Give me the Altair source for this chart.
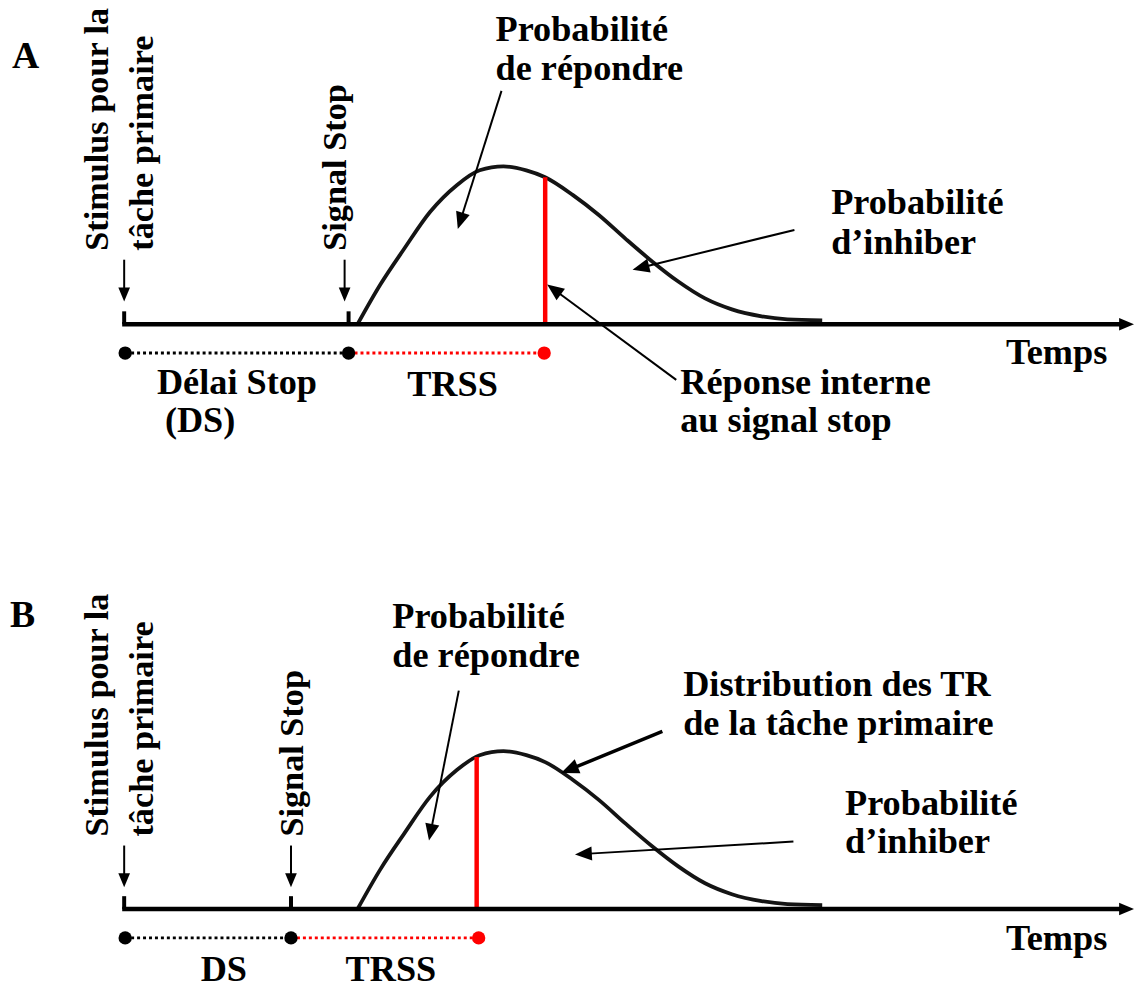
import math
import numpy as np
import pandas as pd
import altair as alt

FONT = "Liberation Serif"

# ---- data (diagram units: time along x, height above the time axis) ----
panels = ["A", "B"]
axis_y = [323, 912]
stimulus_t = [125, 125]
stop_t = [351, 293]
ssrt_end_t = [549, 480]
dot_t = [[126, 351, 548], [126, 293, 482]]

# response-time distribution of the primary task (same in both panels)
curve_t = [360, 383, 407, 433, 460, 483, 507, 530, 549, 577, 603, 630, 657, 683, 710, 737, 767, 793, 828]
curve_h = [0, 40, 76, 113, 140, 155, 159, 155, 148, 130, 110, 86, 63, 43, 26, 15, 8, 5, 4]

# labels: text, left x, baseline y, font size
flat_labels = [
    ("A", 12, 65, 38), ("B", 10, 628, 38),
    ("Probabilité", 499, 38, 36.5), ("de répondre", 499, 77, 36.5),
    ("Probabilité", 837, 212, 36.5), ("d’inhiber", 837, 252, 36.5),
    ("Réponse interne", 685, 393, 36.5), ("au signal stop", 685, 432, 36.5),
    ("Temps", 1013, 363, 36.5), ("Délai Stop", 158, 393, 36.5), ("(DS)", 166, 432, 36.5),
    ("TRSS", 410, 395, 36.5),
    ("Probabilité", 395, 629, 36.5), ("de répondre", 395, 668, 36.5),
    ("Distribution des TR", 688, 697, 36.5), ("de la tâche primaire", 688, 737, 36.5),
    ("Probabilité", 851, 817, 36.5), ("d’inhiber", 851, 856, 36.5),
    ("Temps", 1013, 953, 36.5), ("DS", 202, 984, 36.5), ("TRSS", 348, 984, 36.5),
]
rot_labels = [
    ("Stimulus pour la", 109, 249), ("tâche primaire", 154, 249), ("Signal Stop", 348, 249),
    ("Stimulus pour la", 109, 839), ("tâche primaire", 154, 839), ("Signal Stop", 305, 839),
]
# annotation arrows: x1, y1, tip x, tip y, stroke width, head length
arrows = [
    (505, 88, 461, 227, 2, 17), (800, 228, 637, 268, 2, 17), (681, 379, 551, 283, 2, 17),
    (462, 692, 432, 843, 2, 17), (667, 733, 565, 775, 3.5, 18), (799, 844, 579, 857, 2, 17),
    (125, 258, 125, 300, 2, 14), (347, 258, 347, 300, 2, 14),
    (125, 848, 125, 890, 2, 14), (293, 848, 293, 890, 2, 14),
    (123, 323, 1142, 323, 4.5, 15), (123, 912, 1142, 912, 4.5, 15),
]

# ---- tables ----
W, H = 1134, 982
xs = alt.Scale(domain=[8, 8 + W], nice=False, zero=False)
ys = alt.Scale(domain=[8, 8 + H], nice=False, zero=False, reverse=True)


def X(f):
    return alt.X(f, type="quantitative", scale=xs, axis=None)


def Y(f):
    return alt.Y(f, type="quantitative", scale=ys, axis=None)


curve_rows = []
for p, ay in zip(panels, axis_y):
    for t, h in zip(curve_t, curve_h):
        curve_rows.append({"panel": p, "x": t, "y": ay - h})
curve_df = pd.DataFrame(curve_rows)

red_rows, tick_rows, dotb_rows, dotr_rows, dots_rows = [], [], [], [], []
for i, p in enumerate(panels):
    ay = axis_y[i]
    top = ay - float(np.interp(ssrt_end_t[i], curve_t, curve_h))
    red_rows.append({"x": ssrt_end_t[i], "y": top, "y2": ay})
    for t in (stimulus_t[i], stop_t[i]):
        tick_rows.append({"x": t, "y": ay - 13, "y2": ay})
    dy = ay + 29
    d = dot_t[i]
    dotb_rows.append({"x": d[0], "x2": d[1], "y": dy})
    dotr_rows.append({"x": d[1], "x2": d[2], "y": dy})
    dots_rows += [{"x": d[0], "y": dy, "c": "k"}, {"x": d[1], "y": dy, "c": "k"},
                  {"x": d[2], "y": dy, "c": "r"}]

shaft_rows, head_rows = [], []
for x1, y1, x2, y2, w, L in arrows:
    dx, dy = x2 - x1, y2 - y1
    n = math.hypot(dx, dy)
    ux, uy = dx / n, dy / n
    shaft_rows.append({"x": x1, "y": y1, "x2": x2 - ux * L * 0.6, "y2": y2 - uy * L * 0.6, "w": w})
    ang = math.degrees(math.atan2(dx, -dy)) % 360
    head_rows.append({"x": x2, "y": y2, "a": ang, "s": (2 * L) ** 2})

flat_df = pd.DataFrame(flat_labels, columns=["t", "x", "y", "fs"])
rot_df = pd.DataFrame(rot_labels, columns=["t", "x", "y"])

curve = alt.Chart(curve_df).mark_line(interpolate="monotone", color="#141414", strokeWidth=3.8).encode(
    x=X("x"), y=Y("y"), detail="panel:N")
red = alt.Chart(pd.DataFrame(red_rows)).mark_rule(color="#ff0000", strokeWidth=4.5).encode(
    x=X("x"), y=Y("y"), y2="y2")
ticks = alt.Chart(pd.DataFrame(tick_rows)).mark_rule(color="black", strokeWidth=4).encode(
    x=X("x"), y=Y("y"), y2="y2")
shafts = alt.Chart(pd.DataFrame(shaft_rows)).mark_rule(color="black").encode(
    x=X("x"), y=Y("y"), x2="x2", y2="y2", strokeWidth=alt.StrokeWidth("w:Q", scale=None))
heads = alt.Chart(pd.DataFrame(head_rows)).mark_point(
    shape="M0,0L-0.42,1L0.42,1Z", filled=True, color="black", opacity=1, strokeWidth=0).encode(
    x=X("x"), y=Y("y"), angle=alt.Angle("a:Q", scale=None), size=alt.Size("s:Q", scale=None))
dotb = alt.Chart(pd.DataFrame(dotb_rows)).mark_rule(color="black", strokeWidth=3, strokeDash=[3, 3]).encode(
    x=X("x"), x2="x2", y=Y("y"))
dotr = alt.Chart(pd.DataFrame(dotr_rows)).mark_rule(color="#ff0000", strokeWidth=3, strokeDash=[3, 3]).encode(
    x=X("x"), x2="x2", y=Y("y"))
dots = alt.Chart(pd.DataFrame(dots_rows)).mark_circle(size=180, opacity=1).encode(
    x=X("x"), y=Y("y"),
    color=alt.Color("c:N", scale=alt.Scale(domain=["k", "r"], range=["black", "#ff0000"]), legend=None))
flat = alt.Chart(flat_df).mark_text(align="left", baseline="alphabetic", font=FONT, fontWeight="bold",
                                    color="black").encode(
    x=X("x"), y=Y("y"), text="t:N", size=alt.Size("fs:Q", scale=None))
rot = alt.Chart(rot_df).mark_text(align="left", baseline="alphabetic", font=FONT, fontWeight="bold",
                                  color="black", angle=270, fontSize=34.5).encode(
    x=X("x"), y=Y("y"), text="t:N")

chart = alt.layer(curve, red, ticks, shafts, heads, dotb, dotr, dots, flat, rot).properties(
    width=W, height=H, padding=0, autosize=alt.AutoSizeParams(type="none")
).configure_view(strokeWidth=0)

chart.save("out.html", embed_options={"renderer": "svg", "actions": False})
